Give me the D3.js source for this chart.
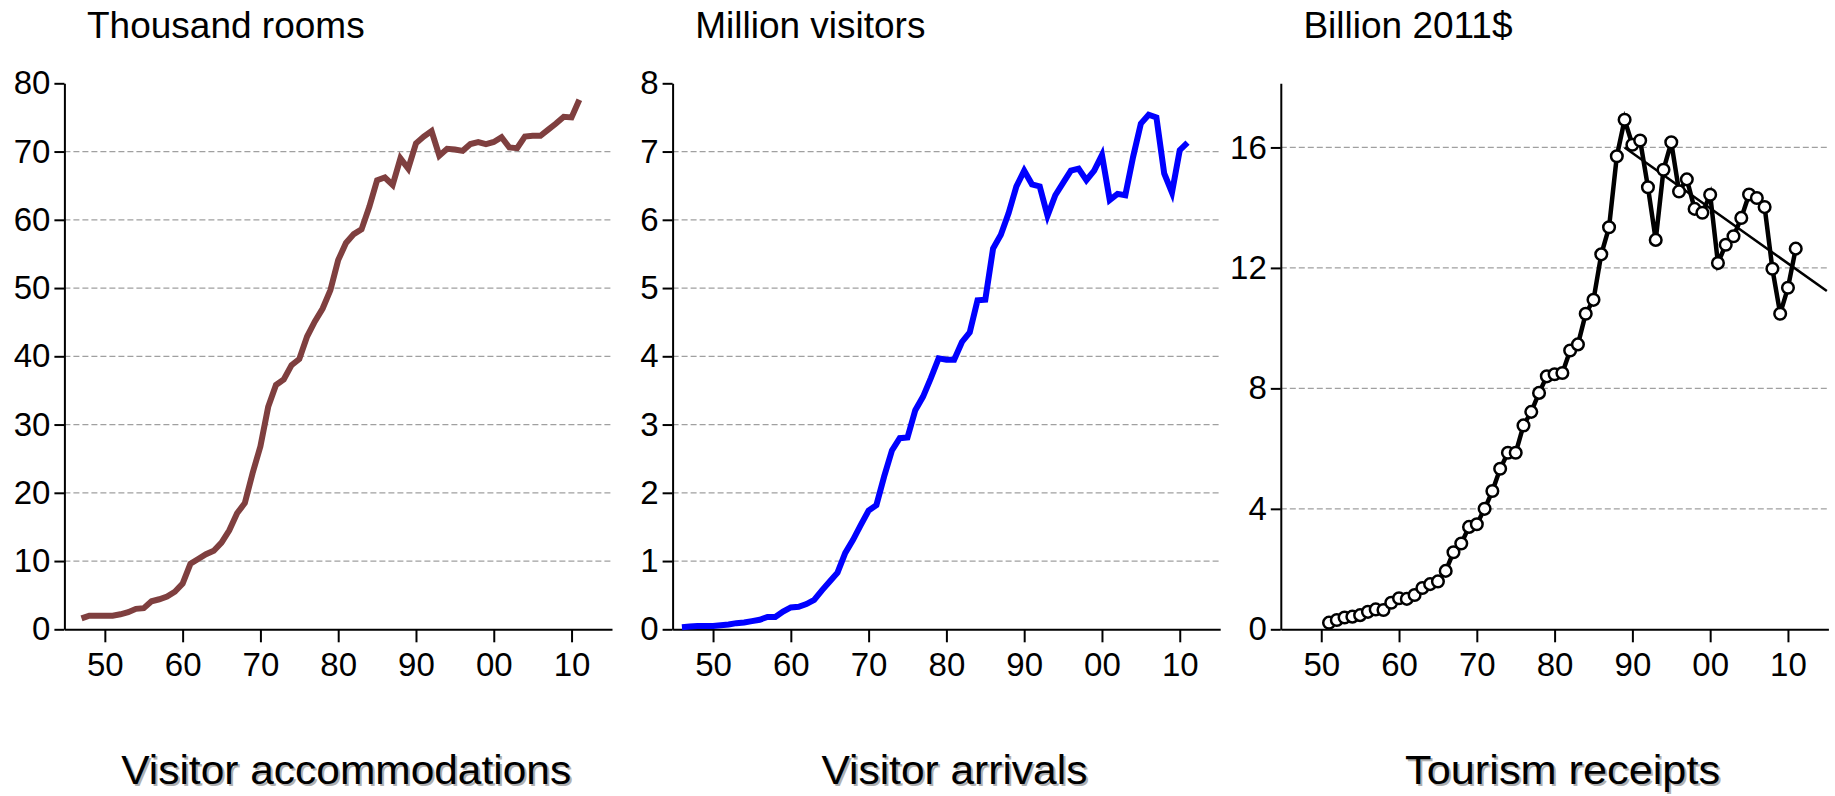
<!DOCTYPE html>
<html>
<head>
<meta charset="utf-8">
<script src="https://cdn.jsdelivr.net/npm/d3@7"></script>
<style>
  body { margin: 0; background: #fff; }
  svg { display: block; font-family: "Liberation Sans", Arial, sans-serif; }
</style>
</head>
<body>
<svg id="chart" width="1835" height="796"></svg>
<script>
// Visitor accommodations (thousand rooms)
var roomYears = [1947,1948,1949,1950,1951,1952,1953,1954,1955,1956,1957,1958,1959,1960,1961,1962,1963,1964,1965,1966,1967,1968,1969,1970,1971,1972,1973,1974,1975,1976,1977,1978,1979,1980,1981,1982,1983,1984,1985,1986,1987,1988,1989,1990,1991,1992,1993,1994,1995,1996,1997,1998,1999,2000,2001,2002,2003,2004,2005,2006,2007,2008,2009,2010,2011];
var roomValues = [1.6,2.0,2.0,2.0,2.0,2.2,2.5,3.0,3.1,4.1,4.4,4.8,5.5,6.7,9.6,10.3,11.0,11.5,12.7,14.5,17.0,18.5,22.9,26.8,32.6,35.8,36.6,38.7,39.6,42.9,45.1,47.0,49.7,54.1,56.6,57.9,58.6,61.9,65.8,66.2,65.1,69.0,67.5,71.2,72.2,73.0,69.4,70.4,70.3,70.1,71.1,71.4,71.1,71.4,72.1,70.6,70.5,72.2,72.3,72.3,73.2,74.1,75.1,75.0,77.6];

// Visitor arrivals (million visitors)
var visitorYears = [1946,1947,1948,1949,1950,1951,1952,1953,1954,1955,1956,1957,1958,1959,1960,1961,1962,1963,1964,1965,1966,1967,1968,1969,1970,1971,1972,1973,1974,1975,1976,1977,1978,1979,1980,1981,1982,1983,1984,1985,1986,1987,1988,1989,1990,1991,1992,1993,1994,1995,1996,1997,1998,1999,2000,2001,2002,2003,2004,2005,2006,2007,2008,2009,2010,2011];
var visitorValues = [0.03,0.04,0.05,0.05,0.05,0.06,0.07,0.09,0.10,0.12,0.14,0.18,0.18,0.26,0.32,0.33,0.37,0.43,0.57,0.70,0.83,1.12,1.31,1.53,1.74,1.82,2.24,2.62,2.80,2.81,3.21,3.41,3.68,3.97,3.95,3.95,4.21,4.35,4.82,4.83,5.58,5.78,6.10,6.49,6.72,6.52,6.49,6.06,6.36,6.54,6.72,6.75,6.58,6.72,6.95,6.29,6.38,6.36,6.92,7.41,7.54,7.50,6.68,6.40,7.02,7.13];

// Tourism receipts (billion 2011$)
var receiptYears = [1951,1952,1953,1954,1955,1956,1957,1958,1959,1960,1961,1962,1963,1964,1965,1966,1967,1968,1969,1970,1971,1972,1973,1974,1975,1976,1977,1978,1979,1980,1981,1982,1983,1984,1985,1986,1987,1988,1989,1990,1991,1992,1993,1994,1995,1996,1997,1998,1999,2000,2001,2002,2003,2004,2005,2006,2007,2008,2009,2010,2011];
var receiptValues = [0.22,0.31,0.39,0.42,0.47,0.58,0.66,0.64,0.88,1.03,1.01,1.14,1.37,1.50,1.59,1.94,2.56,2.85,3.40,3.49,4.00,4.59,5.33,5.86,5.86,6.77,7.22,7.85,8.40,8.47,8.51,9.26,9.46,10.48,10.94,12.45,13.35,15.71,16.92,16.09,16.23,14.68,12.93,15.26,16.17,14.54,14.94,13.96,13.83,14.43,12.16,12.77,13.05,13.66,14.44,14.32,14.02,11.97,10.48,11.34,12.64];

// Trend line drawn over the receipts since the peak
var trendYears = [1989, 2015];
var trendValues = [16.0, 11.23];

// Axis ticks
var yearTicks = [1950,1960,1970,1980,1990,2000,2010];
var roomTicks = [0,10,20,30,40,50,60,70,80];
var visitorTicks = [0,1,2,3,4,5,6,7,8];
var receiptTicks = [0,4,8,12,16];

var unitTitles = ["Thousand rooms", "Million visitors", "Billion 2011$"];
var panelTitles = ["Visitor accommodations", "Visitor arrivals", "Tourism receipts"];

//Dimensões
var top0 = 83.3, bottom0 = 629.3, plotW = 547.6;
var panelLeft = [64.4, 672.6, 1280.8];
var bottomTitleWidth = [450, 266, 315];

var svg = d3.select("#chart");

var panels = [
  {years: roomYears, values: roomValues, ticks: roomTicks, ymax: 80, color: "#7f3f3f", width: 6},
  {years: visitorYears, values: visitorValues, ticks: visitorTicks, ymax: 8, color: "#0000ff", width: 6},
  {years: receiptYears, values: receiptValues, ticks: receiptTicks, ymax: 18.13, color: "#000", width: 4.5, markers: true, trend: true}
];

panels.forEach(function(p, i) {
  var g = svg.append("g").attr("transform", "translate(" + panelLeft[i] + "," + top0 + ")");
  var h = bottom0 - top0;

  var x = d3.scaleLinear().domain([1944.8, 2015.2]).range([0, plotW]);
  var y = d3.scaleLinear().domain([0, p.ymax]).range([h, 0]);

  //Linhas de grade tracejadas
  g.selectAll(".grid")
    .data(p.ticks.filter(function(t) { return t > 0 && t < p.ymax; }))
    .enter().append("line")
    .attr("x1", 0).attr("x2", plotW)
    .attr("y1", function(d) { return y(d); })
    .attr("y2", function(d) { return y(d); })
    .attr("stroke", "#a0a0a0")
    .attr("stroke-width", 1.2)
    .attr("stroke-dasharray", "6,3");

  //Eixo y
  var ya = g.append("g")
    .call(d3.axisLeft(y).tickValues(p.ticks).tickSize(10).tickSizeOuter(0).tickPadding(4));
  //Eixo x
  var xa = g.append("g")
    .attr("transform", "translate(0," + h + ")")
    .call(d3.axisBottom(x).tickValues(yearTicks).tickSize(13).tickSizeOuter(0).tickPadding(10)
      .tickFormat(function(d) { return String(d % 100).padStart(2, "0"); }));

  [ya, xa].forEach(function(a) {
    a.selectAll("path, line").attr("stroke", "#000").attr("stroke-width", 2);
    a.selectAll("text").attr("fill", "#000").style("font-size", "33px")
      .style("font-family", "'Liberation Sans', Arial, sans-serif");
  });

  //Linha da série
  var line = d3.line()
    .x(function(d, k) { return x(p.years[k]); })
    .y(function(d) { return y(d); });

  if (p.trend) {
    g.append("path")
      .datum(trendValues)
      .attr("d", d3.line().x(function(d, k) { return x(trendYears[k]); }).y(function(d) { return y(d); }))
      .attr("fill", "none")
      .attr("stroke", "#000")
      .attr("stroke-width", 2.5);
  }

  g.append("path")
    .datum(p.values)
    .attr("d", line)
    .attr("fill", "none")
    .attr("stroke", p.color)
    .attr("stroke-width", p.width);

  if (p.markers) {
    g.selectAll(".dot")
      .data(p.values)
      .enter().append("circle")
      .attr("cx", function(d, k) { return x(p.years[k]); })
      .attr("cy", function(d) { return y(d); })
      .attr("r", 5.8)
      .attr("fill", "#fff")
      .attr("stroke", "#000")
      .attr("stroke-width", 2.5);
  }

  //Título da unidade
  svg.append("text")
    .attr("x", panelLeft[i] + 22.6)
    .attr("y", 37.5)
    .style("font-size", "37px")
    .text(unitTitles[i]);

  //Título do painel, com sombra
  var cx = panelLeft[i] + plotW / 2 + 8;
  [["#b0b0b0", 2], ["#000", 0]].forEach(function(s) {
    svg.append("text")
      .attr("x", cx + s[1])
      .attr("y", 784 + s[1])
      .attr("text-anchor", "middle")
      .attr("textLength", bottomTitleWidth[i])
      .attr("lengthAdjust", "spacingAndGlyphs")
      .attr("fill", s[0])
      .style("font-size", "40px")
      .text(panelTitles[i]);
  });
});
</script>
</body>
</html>
